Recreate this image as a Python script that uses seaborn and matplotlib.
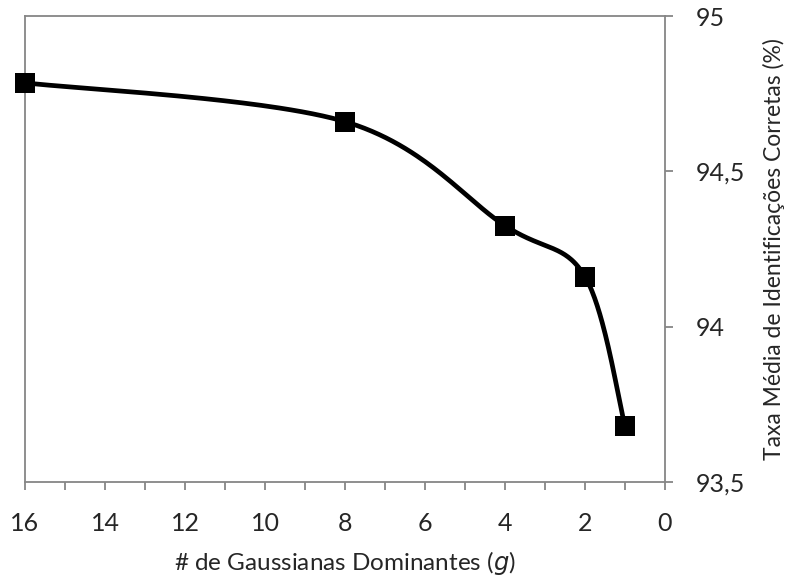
import numpy as np
import pandas as pd
import matplotlib
matplotlib.use("Agg")
import matplotlib.pyplot as plt
from matplotlib.ticker import FuncFormatter, MultipleLocator
import seaborn as sns

# Number of dominant Gaussians and mean correct identification rate (%)
gaussianas = [16, 8, 4, 2, 1]
taxa = [94.785, 94.66, 94.325, 94.161, 93.68]

x_ticks = [16, 14, 12, 10, 8, 6, 4, 2, 0]
y_ticks = [93.5, 94.0, 94.5, 95.0]

sns.set_style("white")
plt.rcParams["font.family"] = ["Lato", "DejaVu Sans"]

fig = plt.figure(figsize=(7.91, 5.85), dpi=100)
ax = fig.add_axes([25 / 791, 1 - 482 / 585, 640 / 791, 466 / 585])

xlim = (16, 0)
ylim = (93.5, 95.0)
ax.set_xlim(*xlim)
ax.set_ylim(*ylim)

# Smoothed curve through the points (Catmull-Rom style cubic Bezier, computed in
# display-proportional coordinates so the bends look like a spreadsheet chart)
sx = 640 / abs(xlim[1] - xlim[0])
sy = 466 / (ylim[1] - ylim[0])
P = np.column_stack([np.array(gaussianas, float) * sx, np.array(taxa) * sy])
curve = []
n = len(P)
for i in range(n - 1):
    p0 = P[max(i - 1, 0)]
    p1 = P[i]
    p2 = P[i + 1]
    p3 = P[min(i + 2, n - 1)]
    c1 = p1 + (p2 - p0) / 6.0
    c2 = p2 - (p3 - p1) / 6.0
    t = np.linspace(0, 1, 60)[:, None]
    seg = ((1 - t) ** 3) * p1 + 3 * ((1 - t) ** 2) * t * c1 + 3 * (1 - t) * t ** 2 * c2 + t ** 3 * p2
    curve.append(seg if i == 0 else seg[1:])
curve = np.vstack(curve)
curve_df = pd.DataFrame({"g": curve[:, 0] / sx, "taxa": curve[:, 1] / sy})
pts_df = pd.DataFrame({"g": gaussianas, "taxa": taxa})

sns.lineplot(data=curve_df, x="g", y="taxa", sort=False, estimator=None,
             color="black", linewidth=3.4, ax=ax, zorder=3)
sns.scatterplot(data=pts_df, x="g", y="taxa", marker="s", s=190, color="black",
                edgecolor="black", linewidth=0, ax=ax, zorder=4, clip_on=False)

axis_grey = "#868686"
for sp in ax.spines.values():
    sp.set_color(axis_grey)
    sp.set_linewidth(1.3)
    sp.set_visible(True)

ax.yaxis.tick_right()
ax.yaxis.set_label_position("right")
ax.set_xticks(x_ticks)
ax.xaxis.set_minor_locator(MultipleLocator(1))
ax.set_yticks(y_ticks)
ax.yaxis.set_major_formatter(FuncFormatter(lambda v, _: (f"{v:g}").replace(".", ",")))
ax.xaxis.set_major_formatter(FuncFormatter(lambda v, _: f"{v:g}"))

ax.tick_params(axis="x", which="both", direction="out", length=6, width=1.3,
               color=axis_grey, labelsize=18, pad=15.5, bottom=True)
ax.tick_params(axis="y", which="major", direction="out", length=6, width=1.3,
               color=axis_grey, labelsize=18, pad=16, right=True, left=False)

ax.set_xlabel("# de Gaussianas Dominantes ($\\mathit{g}$)", fontsize=17.5, labelpad=10)
ax.set_ylabel("Taxa Média de Identificações Corretas (%)", fontsize=16.5, labelpad=13)

fig.savefig("out.png", dpi=100)
